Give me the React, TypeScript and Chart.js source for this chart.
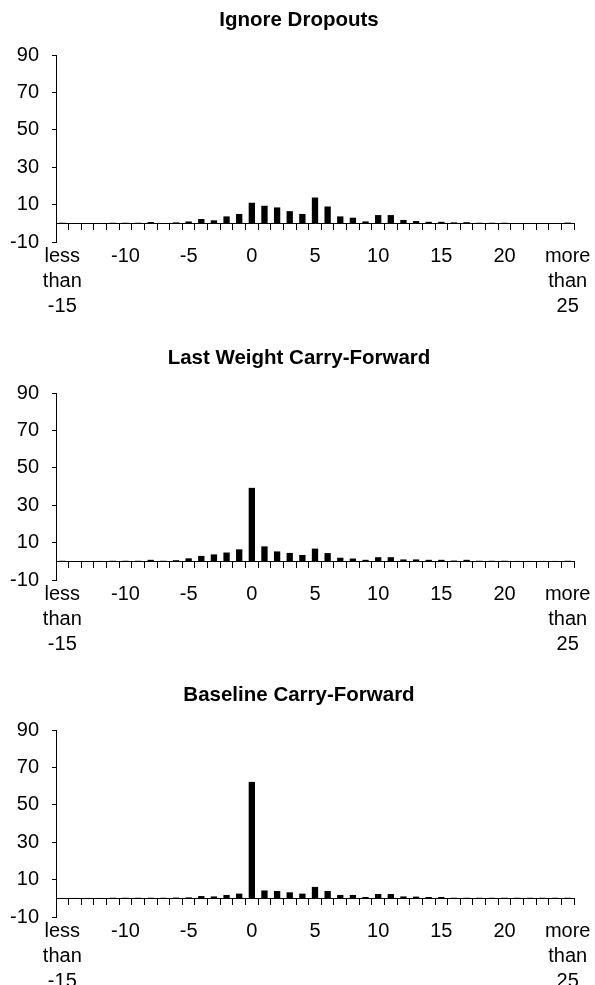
import React, { useEffect, useRef } from 'react';
import { Chart, registerables } from 'chart.js';

Chart.register(...registerables);

// Weight-change categories (-15 means "less than -15", 25 means "more than 25")
const categories = [
  '-15', '-14', '-13', '-12', '-11', '-10', '-9', '-8', '-7', '-6', '-5', '-4', '-3', '-2', '-1',
  '0', '1', '2', '3', '4', '5', '6', '7', '8', '9', '10', '11', '12', '13', '14', '15',
  '16', '17', '18', '19', '20', '21', '22', '23', '24', '25',
];

// Which categories get a label, and the (possibly multi-line) label text
const labelledCategories = ['-15', '-10', '-5', '0', '5', '10', '15', '20', '25'];
const labelTexts: (string | string[])[] = [
  ['less', 'than', '-15'], '-10', '-5', '0', '5', '10', '15', '20', ['more', 'than', '25'],
];

const yTicks = [-10, 10, 30, 50, 70, 90];

const ignoreDropouts = [
  0.3, 0, 0, 0, 0.3, 0.3, 0.3, 0.7, 0, 0.5, 1.0, 2.3, 1.6, 3.7, 5.0,
  11.0, 9.4, 8.5, 6.5, 5.0, 13.8, 9.0, 3.7, 3.0, 1.0, 4.4, 4.4, 1.8, 1.2, 0.8, 0.8,
  0.5, 0.6, 0.3, 0.3, 0.3, 0, 0, 0, 0, 0.4,
];

const lastWeightCF = [
  0.3, 0, 0, 0.2, 0.3, 0.3, 0.3, 0.8, 0.3, 0.6, 1.6, 2.9, 3.7, 4.7, 6.4,
  39.3, 8.0, 5.3, 4.5, 3.4, 6.8, 4.4, 1.9, 1.5, 0.8, 2.2, 2.2, 1.0, 1.0, 0.8, 0.8,
  0.4, 0.8, 0.3, 0.3, 0.3, 0.2, 0.2, 0.2, 0.2, 0.3,
];

const baselineCF = [
  0.2, 0.2, 0.2, 0.2, 0.3, 0.3, 0.3, 0.3, 0.3, 0.4, 0.5, 1.2, 1.0, 1.8, 2.5,
  62.3, 4.2, 3.9, 3.2, 2.5, 6.1, 3.9, 1.8, 1.8, 0.7, 2.3, 2.3, 1.0, 0.9, 0.7, 0.7,
  0.3, 0.3, 0.3, 0.3, 0.3, 0.3, 0.3, 0.3, 0.3, 0.3,
];

const titles = ['Ignore Dropouts', 'Last Weight Carry-Forward', 'Baseline Carry-Forward'];

const FONT = "'Liberation Sans', Arial, Helvetica, sans-serif";
const CANVAS_W = 595;
const CANVAS_H = 330;

function Histogram({ title, values, top }: { title: string; values: number[]; top: number }) {
  const ref = useRef<HTMLCanvasElement>(null);

  useEffect(() => {
    if (!ref.current) return;
    const chart = new Chart(ref.current, {
      type: 'bar',
      data: {
        labels: categories,
        datasets: [
          {
            data: values,
            backgroundColor: '#000',
            borderWidth: 0,
            barPercentage: 0.5,
            categoryPercentage: 1,
            xAxisID: 'x',
            yAxisID: 'y',
          },
        ],
      },
      options: {
        animation: false,
        responsive: false,
        devicePixelRatio: 1,
        layout: { padding: { left: 3, right: 0, top: 0, bottom: 0 } },
        plugins: {
          legend: { display: false },
          tooltip: { enabled: false },
          title: {
            display: true,
            text: title,
            color: '#000',
            font: { family: FONT, size: 20.5, weight: 'bold', lineHeight: 1.2 },
            padding: { top: 8, bottom: 22.5 },
          },
        },
        scales: {
          x: {
            type: 'category',
            position: { y: 0 } as any,
            offset: true,
            grid: {
              display: true,
              offset: true,
              drawOnChartArea: false,
              drawTicks: true,
              tickLength: 6,
              color: '#000',
              tickColor: '#000',
              lineWidth: 1,
            },
            border: { display: true, color: '#000', width: 1 },
            ticks: { display: false, autoSkip: false },
          },
          x2: {
            type: 'category',
            position: 'bottom',
            offset: true,
            grid: { display: false },
            border: { display: false },
            ticks: {
              autoSkip: false,
              maxRotation: 0,
              minRotation: 0,
              padding: -6,
              color: '#000',
              font: { family: FONT, size: 20, lineHeight: 1.25 },
              callback: (_v: any, i: number) => {
                const idx = labelledCategories.indexOf(categories[i]);
                return idx >= 0 ? labelTexts[idx] : '';
              },
            },
            afterFit: (s: any) => {
              s.height = 88;
            },
          },
          y: {
            type: 'linear',
            position: 'left',
            min: -10,
            max: 90,
            afterBuildTicks: (s: any) => {
              s.ticks = yTicks.map((v) => ({ value: v }));
            },
            grid: {
              drawOnChartArea: false,
              drawTicks: true,
              tickLength: 4,
              color: '#000',
              tickColor: '#000',
            },
            border: { display: true, color: '#000', width: 1 },
            ticks: {
              padding: 13,
              color: '#000',
              font: { family: FONT, size: 20 },
            },
            afterFit: (s: any) => {
              s.width = 53;
            },
          },
          yRightSpace: {
            type: 'linear',
            position: 'right',
            display: true,
            grid: { display: false },
            border: { display: false },
            ticks: { display: false },
            afterFit: (s: any) => {
              s.width = 21;
            },
          },
        },
      } as any,
    });
    return () => chart.destroy();
  }, [title, values]);

  return (
    <canvas
      ref={ref}
      width={CANVAS_W}
      height={CANVAS_H}
      style={{ position: 'absolute', left: 0, top, width: CANVAS_W + 'px', height: CANVAS_H + 'px' }}
    />
  );
}

export default function App() {
  return (
    <div
      style={{
        position: 'fixed',
        left: 0,
        top: 0,
        width: 595,
        height: 985,
        overflow: 'hidden',
        background: '#fff',
      }}
    >
      <Histogram title={titles[0]} values={ignoreDropouts} top={0} />
      <Histogram title={titles[1]} values={lastWeightCF} top={338} />
      <Histogram title={titles[2]} values={baselineCF} top={675} />
    </div>
  );
}
